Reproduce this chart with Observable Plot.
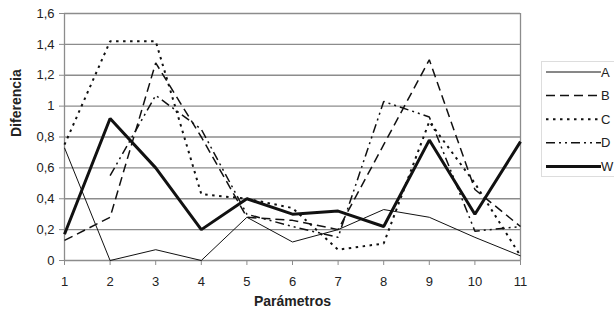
<!DOCTYPE html>
<html>
<head>
<meta charset="utf-8">
<script src="https://cdn.jsdelivr.net/npm/d3@7"></script>
<script src="https://cdn.jsdelivr.net/npm/@observablehq/plot@0.6"></script>
<style>
  html, body { margin: 0; padding: 0; background: #fff; }
  #wrap { position: relative; width: 614px; height: 315px; font-family: "Liberation Sans", Arial, sans-serif; }
  #legend { position: absolute; left: 0; top: 0; }
</style>
</head>
<body>
<div id="wrap"></div>
<script>
// ---- data ----
const params = [1, 2, 3, 4, 5, 6, 7, 8, 9, 10, 11];
const seriesNames = ["A", "B", "C", "D", "W"];
const A = [0.73, 0.0, 0.07, 0.0, 0.28, 0.12, 0.2, 0.33, 0.28, 0.15, 0.03];
const B = [0.13, 0.28, 1.28, 0.8, 0.28, 0.26, 0.2, 0.75, 1.3, 0.46, 0.22];
const C = [0.75, 1.42, 1.42, 0.43, 0.4, 0.34, 0.07, 0.11, 0.9, 0.5, 0.03];
const D = [null, 0.55, 1.07, 0.85, 0.3, 0.22, 0.15, 1.03, 0.93, 0.19, 0.22];
const W = [0.17, 0.92, 0.6, 0.2, 0.4, 0.3, 0.32, 0.22, 0.78, 0.3, 0.77];
const yTicks = [0, 0.2, 0.4, 0.6, 0.8, 1, 1.2, 1.4, 1.6];
const xTitle = "Parámetros";
const yTitle = "Diferencia";

const values = {A, B, C, D, W};
const rows = seriesNames.flatMap(s => params.map((p, i) => ({param: p, value: values[s][i], series: s})));

// ---- styles ----
const ink = "#111";
const styles = {
  A: {strokeWidth: 1, strokeDasharray: null},
  B: {strokeWidth: 1.5, strokeDasharray: "9,5"},
  C: {strokeWidth: 2, strokeDasharray: "2.5,4.5"},
  D: {strokeWidth: 1.5, strokeDasharray: "9,4,2,4,2,4"},
  W: {strokeWidth: 3, strokeDasharray: null}
};
const grid = "#8c8c8c";
const fmt = d => String(d).replace(".", ",");

const lineMarks = seriesNames.map(s => Plot.line(rows.filter(r => r.series === s), {
  x: "param", y: "value", stroke: ink,
  strokeWidth: styles[s].strokeWidth,
  strokeDasharray: styles[s].strokeDasharray,
  strokeLinejoin: "miter", strokeLinecap: "butt"
}));

const chart = Plot.plot({
  width: 614,
  height: 315,
  marginLeft: 64,
  marginRight: 94,
  marginTop: 13,
  marginBottom: 55,
  style: {fontFamily: "Liberation Sans, Arial, sans-serif", fontSize: "13px", color: "#222", background: "#fff"},
  x: {domain: [1, 11]},
  y: {domain: [0, 1.6]},
  marks: [
    Plot.gridY(yTicks, {stroke: grid, strokeOpacity: 1, strokeWidth: 1.3}),
    Plot.ruleX([1, 11], {stroke: grid, strokeWidth: 1.3}),
    Plot.axisY(yTicks, {tickSize: 5, tickPadding: 5, stroke: grid, tickFormat: fmt, label: null, fontSize: 13, fill: "#222"}),
    Plot.axisX(params, {tickSize: 5, tickPadding: 11, stroke: grid, tickFormat: d => d, label: null, fontSize: 13, fill: "#222"}),
    ...lineMarks,
    Plot.text([xTitle], {frameAnchor: "bottom", dy: 45, fontWeight: "bold", fontSize: 14, fill: "#222"}),
    Plot.text([yTitle], {frameAnchor: "left", dx: -48, rotate: -90, fontWeight: "bold", fontSize: 14, fill: "#222"})
  ]
});
const wrap = document.getElementById("wrap");
wrap.appendChild(chart);

// ---- legend ----
const leg = d3.select(wrap).append("svg")
  .attr("id", "legend")
  .attr("width", 614).attr("height", 315)
  .style("pointer-events", "none");
leg.append("rect")
  .attr("x", 541.5).attr("y", 61.5).attr("width", 80).attr("height", 115)
  .attr("fill", "#fff").attr("stroke", "#ddd");
seriesNames.forEach((s, i) => {
  const y = 72 + i * 23.6;
  leg.append("line")
    .attr("x1", 546).attr("x2", 601).attr("y1", y).attr("y2", y)
    .attr("stroke", ink)
    .attr("stroke-width", styles[s].strokeWidth)
    .attr("stroke-dasharray", styles[s].strokeDasharray);
  leg.append("text")
    .attr("x", 601).attr("y", y).attr("dy", "0.35em")
    .attr("font-family", "Liberation Sans, Arial, sans-serif")
    .attr("font-size", 13).attr("fill", "#222")
    .text(s);
});
</script>
</body>
</html>
